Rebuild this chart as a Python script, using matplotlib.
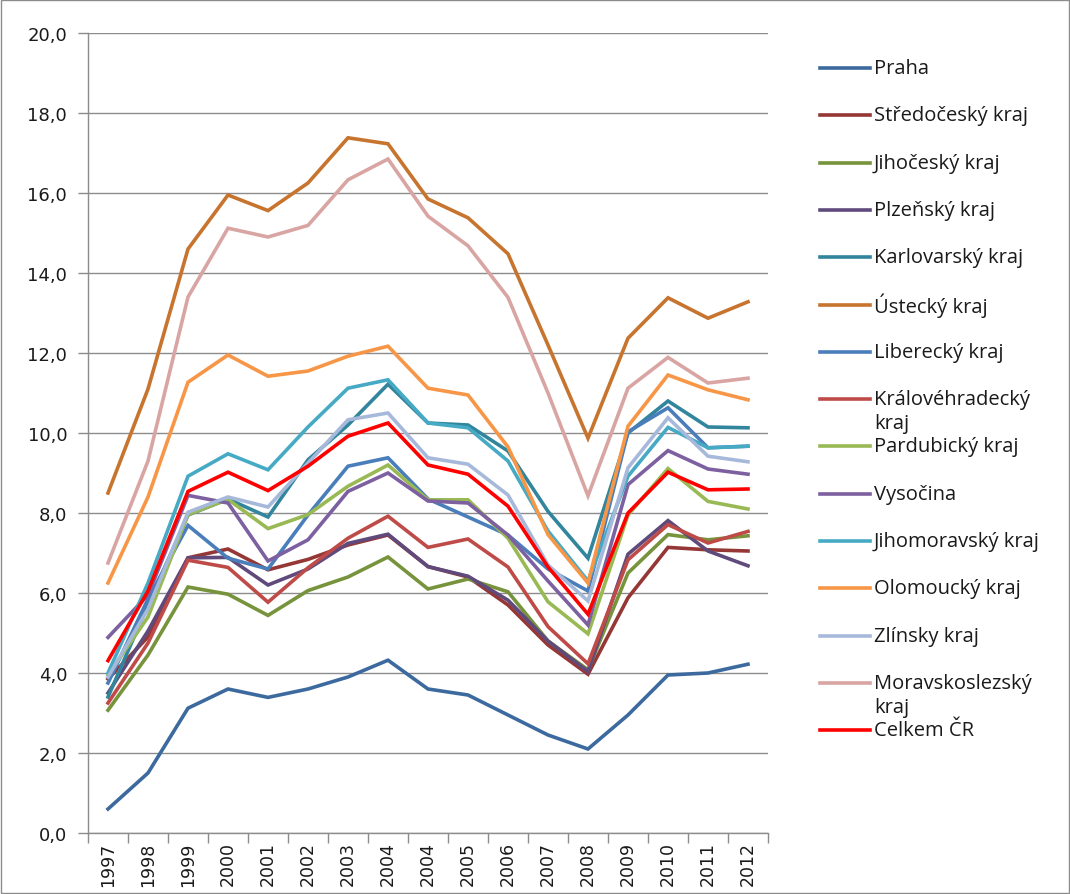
import matplotlib
matplotlib.use("Agg")
import matplotlib.pyplot as plt
from matplotlib.lines import Line2D
from matplotlib.patches import Rectangle

years = ['1997', '1998', '1999', '2000', '2001', '2002', '2003', '2004', '2004',
         '2005', '2006', '2007', '2008', '2009', '2010', '2011', '2012']

praha = [0.6, 1.5, 3.12, 3.6, 3.39, 3.6, 3.9, 4.32, 3.6, 3.45, 2.95, 2.45, 2.1, 2.95, 3.95, 4.0, 4.22]
stredocesky = [3.85, 4.9, 6.88, 7.1, 6.58, 6.84, 7.2, 7.45, 6.66, 6.4, 5.7, 4.7, 3.97, 5.88, 7.14, 7.08, 7.05]
jihocesky = [3.07, 4.45, 6.15, 5.97, 5.44, 6.06, 6.4, 6.9, 6.1, 6.35, 6.03, 4.8, 4.08, 6.5, 7.46, 7.33, 7.43]
plzensky = [3.5, 5.05, 6.88, 6.89, 6.2, 6.6, 7.24, 7.47, 6.66, 6.42, 5.82, 4.8, 4.04, 6.97, 7.81, 7.05, 6.68]
karlovarsky = [3.4, 5.7, 7.95, 8.35, 7.9, 9.33, 10.2, 11.22, 10.25, 10.2, 9.55, 8.04, 6.87, 10.0, 10.8, 10.15, 10.13]
ustecky = [8.5, 11.1, 14.6, 15.95, 15.56, 16.25, 17.38, 17.23, 15.85, 15.38, 14.48, 12.2, 9.87, 12.37, 13.38, 12.87, 13.28]
liberecky = [3.75, 5.85, 7.69, 6.87, 6.6, 7.95, 9.17, 9.38, 8.35, 7.9, 7.45, 6.6, 6.05, 10.03, 10.63, 9.63, 9.67]
kralovehradecky = [3.25, 4.75, 6.82, 6.64, 5.77, 6.63, 7.37, 7.92, 7.14, 7.35, 6.65, 5.16, 4.23, 6.83, 7.71, 7.25, 7.54]
pardubicky = [3.95, 5.4, 7.96, 8.34, 7.61, 7.96, 8.67, 9.2, 8.33, 8.33, 7.37, 5.78, 4.98, 7.95, 9.11, 8.29, 8.1]
vysocina = [4.89, 5.95, 8.44, 8.25, 6.8, 7.33, 8.54, 9.0, 8.3, 8.25, 7.45, 6.3, 5.2, 8.71, 9.56, 9.1, 8.97]
jihomoravsky = [4.0, 6.25, 8.92, 9.48, 9.08, 10.15, 11.12, 11.33, 10.25, 10.13, 9.3, 7.55, 6.3, 8.92, 10.14, 9.63, 9.67]
olomoucky = [6.25, 8.4, 11.27, 11.95, 11.42, 11.55, 11.92, 12.17, 11.12, 10.95, 9.65, 7.46, 6.25, 10.17, 11.45, 11.08, 10.83]
zlinsky = [3.9, 5.6, 8.02, 8.4, 8.15, 9.25, 10.33, 10.5, 9.38, 9.22, 8.45, 6.7, 5.8, 9.13, 10.38, 9.42, 9.28]
moravskoslezsky = [6.75, 9.3, 13.4, 15.12, 14.9, 15.19, 16.33, 16.85, 15.42, 14.68, 13.39, 11.0, 8.43, 11.12, 11.89, 11.25, 11.37]
celkem = [4.31, 6.05, 8.54, 9.02, 8.56, 9.17, 9.92, 10.25, 9.2, 8.97, 8.17, 6.65, 5.47, 8.0, 9.02, 8.58, 8.6]

labels = ['Praha', 'Středočeský kraj', 'Jihočeský kraj', 'Plzeňský kraj',
          'Karlovarský kraj', 'Ústecký kraj', 'Liberecký kraj',
          'Královéhradecký\nkraj', 'Pardubický kraj', 'Vysočina',
          'Jihomoravský kraj', 'Olomoucký kraj', 'Zlínsky kraj',
          'Moravskoslezský\nkraj', 'Celkem ČR']
series = [praha, stredocesky, jihocesky, plzensky, karlovarsky, ustecky,
          liberecky, kralovehradecky, pardubicky, vysocina, jihomoravsky,
          olomoucky, zlinsky, moravskoslezsky, celkem]
colors = ['#3C6A9E', '#953735', '#77933C', '#5F4A7B', '#31859C', '#C7742F',
          '#4A7EBB', '#BE4B48', '#98B954', '#7D60A0', '#46AAC5', '#F79646',
          '#A7B9DB', '#D9A5A3', '#FF0000']

W, H = 1070, 895
fig = plt.figure(figsize=(W / 100, H / 100), dpi=100)
fig.patch.set_facecolor('white')
fig.patches.append(Rectangle((0.0008, 0.001), 0.998, 0.998, transform=fig.transFigure,
                             fill=False, edgecolor='#8C8C8C', linewidth=1))

ax = fig.add_axes([88 / W, (H - 834) / H, 680 / W, 800 / H])
x = list(range(len(years)))
for vals, c in zip(series, colors):
    ax.plot(x, vals, color=c, linewidth=2.6, solid_joinstyle='miter', zorder=3)

ax.set_xlim(-0.5, len(years) - 0.5)
ax.set_ylim(0, 20)
ax.set_yticks([0, 2, 4, 6, 8, 10, 12, 14, 16, 18, 20])
ax.set_yticklabels([f"{v:.1f}".replace('.', ',') for v in range(0, 21, 2)],
                   fontsize=13, color='#1a1a1a')
ax.yaxis.grid(True, color='#8C8C8C', linewidth=1)
ax.set_axisbelow(True)

ax.set_xticks([i - 0.5 for i in range(len(years) + 1)])
ax.set_xticklabels([])
ax.set_xticks(x, minor=True)
ax.set_xticklabels(years, minor=True, rotation=90, fontsize=12.5, color='#1a1a1a')
ax.tick_params(axis='x', which='major', length=7, color='#8C8C8C', width=1)
ax.tick_params(axis='x', which='minor', length=0, pad=6)
ax.tick_params(axis='y', length=7, color='#8C8C8C', width=1, pad=8)

for s in ['top', 'right']:
    ax.spines[s].set_visible(False)
for s in ['left', 'bottom']:
    ax.spines[s].set_color('#8C8C8C')
    ax.spines[s].set_linewidth(1)

# legend (Excel style: fixed spacing, wrapped labels overflow downward)
y0 = 69
step = 47.3
for i, (lab, c) in enumerate(zip(labels, colors)):
    yy = y0 + i * step
    fy = 1 - yy / H
    fig.add_artist(Line2D([820 / W, 870 / W], [fy, fy], color=c, linewidth=2.6,
                          transform=fig.transFigure))
    for j, part in enumerate(lab.split('\n')):
        fig.text(874 / W, fy - j * 24 / H, part, fontsize=14.5, family='Open Sans',
                 color='#1a1a1a', va='center', transform=fig.transFigure)

fig.savefig('out.png', dpi=100, facecolor='white')
